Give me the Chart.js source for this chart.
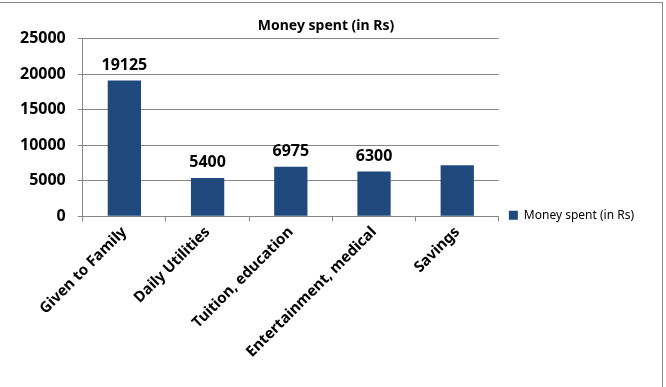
<!DOCTYPE html>
<html>
<head>
<meta charset="utf-8">
<script src="https://cdn.jsdelivr.net/npm/chart.js@4"></script>
<style>
  body { margin: 0; background: #fff; }
  #wrap { position: relative; width: 666px; height: 387px; }
  #frame { position: absolute; left: -2px; top: 2px; width: 665px; height: 400px;
           border-top: 1px solid #8c8c8c; border-right: 1px solid #8c8c8c; box-sizing: border-box; }
</style>
</head>
<body>
<div id="wrap">
  <canvas id="myChart1" width="666" height="387"></canvas>
  <div id="frame"></div>
</div>
<script>
  var categories = ['Given to Family', 'Daily Utilities', 'Tuition, education', 'Entertainment, medical', 'Savings'];
  var moneySpent = [19125, 5400, 6975, 6300, 7200];
  var showValue = [true, true, true, true, false];
  var yTicks = [0, 5000, 10000, 15000, 20000, 25000];

  var barColor = '#1f497d';
  var lineGray = '#868686';
  var fontName = '"Noto Sans", sans-serif';

  // value labels above bars
  var valueLabels = {
    id: 'valueLabels',
    afterLayout: function(chart) {
      // push the legend down to sit next to the x axis like in Excel
      chart.legend.top += 15;
      chart.legend.bottom += 15;
    },
    afterDatasetsDraw: function(chart) {
      var ctx = chart.ctx;
      var meta = chart.getDatasetMeta(0);
      ctx.save();
      ctx.font = 'bold 16px ' + fontName;
      ctx.fillStyle = '#000';
      ctx.textAlign = 'center';
      ctx.textBaseline = 'bottom';
      meta.data.forEach(function(bar, i) {
        if (!showValue[i]) return;
        ctx.fillText(String(moneySpent[i]), bar.x, bar.y - 7);
      });
      ctx.restore();
    }
  };

  var data1 = {
    labels: categories,
    datasets: [{
      label: 'Money spent (in Rs)',
      data: moneySpent,
      backgroundColor: barColor,
      borderWidth: 0,
      barPercentage: 0.4,
      categoryPercentage: 1
    }]
  };

  var config1 = {
    type: 'bar',
    data: data1,
    options: {
      responsive: false,
      animation: false,
      layout: { padding: { left: 8, right: 22, top: 8, bottom: 24 } },
      plugins: {
        title: {
          display: true,
          text: 'Money spent (in Rs)',
          color: '#000',
          font: { family: fontName, size: 14, weight: 'bold' },
          padding: { top: 10, bottom: 4 }
        },
        legend: {
          position: 'right',
          align: 'end',
          fullSize: false,
          labels: {
            color: '#000',
            font: { family: fontName, size: 12 },
            boxWidth: 9,
            boxHeight: 9,
            padding: 10
          }
        },
        tooltip: { enabled: false }
      },
      scales: {
        x: {
          grid: { drawOnChartArea: false, drawTicks: true, tickLength: 5, offset: true, color: lineGray },
          border: { color: lineGray },
          ticks: {
            color: '#000',
            font: { family: fontName, size: 15, weight: 'bold' },
            minRotation: 45,
            maxRotation: 45,
            autoSkip: false,
            padding: 2
          }
        },
        y: {
          min: 0,
          max: 25000,
          afterBuildTicks: function(axis) {
            axis.ticks = yTicks.map(function(v) { return { value: v }; });
          },
          grid: { color: lineGray, tickLength: 5 },
          border: { color: lineGray },
          ticks: {
            color: '#000',
            font: { family: fontName, size: 16, weight: 'bold' },
            padding: 12,
            callback: function(v) { return String(v); }
          }
        }
      }
    },
    plugins: [valueLabels]
  };

  var myChart1 = new Chart(
    document.getElementById('myChart1'),
    config1
  );
</script>
</body>
</html>
